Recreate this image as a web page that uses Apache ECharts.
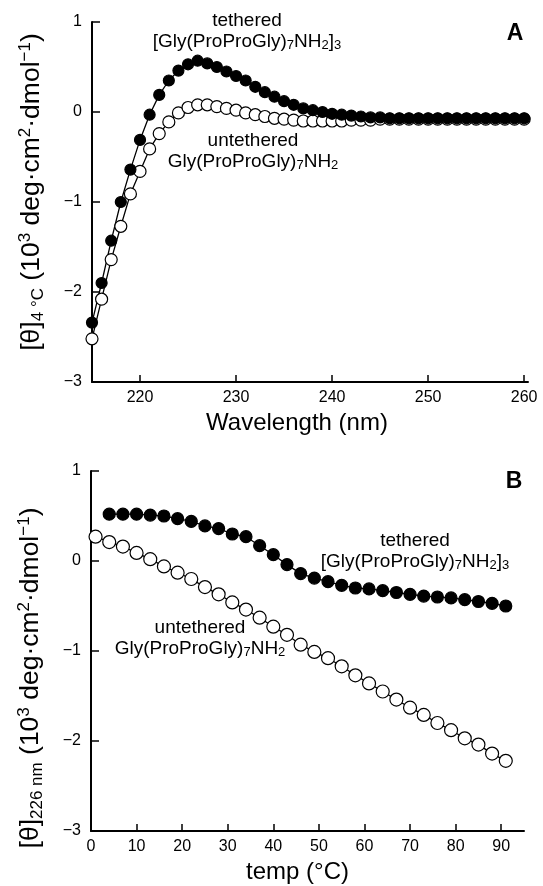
<!DOCTYPE html>
<html>
<head>
<meta charset="utf-8">
<script src="https://cdn.jsdelivr.net/npm/echarts@6/dist/echarts.min.js"></script>
<style>
html,body{margin:0;padding:0;background:#fff;}
#chart{width:543px;height:886px;}
</style>
</head>
<body>
<div id="chart"></div>
<script>
// ---- Panel A data: CD spectra at 4 °C ----
const wavelength = [215,216,217,218,219,220,221,222,223,224,225,226,227,228,229,230,231,232,233,234,235,236,237,238,239,240,241,242,243,244,245,246,247,248,249,250,251,252,253,254,255,256,257,258,259,260];
const tetheredA = [-2.34,-1.90,-1.43,-1.00,-0.64,-0.31,-0.03,0.19,0.35,0.46,0.53,0.57,0.54,0.50,0.45,0.40,0.35,0.28,0.22,0.17,0.12,0.08,0.04,0.02,0.00,-0.02,-0.03,-0.04,-0.05,-0.06,-0.06,-0.07,-0.07,-0.07,-0.07,-0.07,-0.07,-0.07,-0.07,-0.07,-0.07,-0.07,-0.07,-0.07,-0.07,-0.07];
const untetheredA = [-2.52,-2.08,-1.64,-1.27,-0.91,-0.66,-0.41,-0.24,-0.11,-0.01,0.05,0.08,0.08,0.06,0.04,0.02,-0.01,-0.03,-0.05,-0.07,-0.08,-0.09,-0.10,-0.10,-0.10,-0.10,-0.10,-0.09,-0.09,-0.09,-0.08,-0.08,-0.08,-0.08,-0.08,-0.08,-0.08,-0.08,-0.08,-0.08,-0.08,-0.08,-0.08,-0.08,-0.08,-0.08];
const xTicksA = [220,230,240,250,260];

// ---- Panel B data: thermal melts at 226 nm ----
const tempTethered = [4,7,10,13,16,19,22,25,28,31,34,37,40,43,46,49,52,55,58,61,64,67,70,73,76,79,82,85,88,91];
const tetheredB = [0.52,0.52,0.52,0.51,0.50,0.47,0.44,0.39,0.36,0.30,0.27,0.17,0.07,-0.04,-0.14,-0.19,-0.23,-0.27,-0.30,-0.31,-0.33,-0.35,-0.37,-0.39,-0.40,-0.41,-0.43,-0.45,-0.47,-0.50];
const tempUntethered = [1,4,7,10,13,16,19,22,25,28,31,34,37,40,43,46,49,52,55,58,61,64,67,70,73,76,79,82,85,88,91];
const untetheredB = [0.27,0.21,0.16,0.09,0.02,-0.06,-0.13,-0.20,-0.29,-0.37,-0.46,-0.54,-0.63,-0.73,-0.82,-0.93,-1.01,-1.08,-1.17,-1.27,-1.36,-1.45,-1.54,-1.63,-1.71,-1.80,-1.88,-1.97,-2.04,-2.14,-2.22];
const xTicksB = [0,10,20,30,40,50,60,70,80,90];

const FONT = '"Liberation Sans", Arial, Helvetica, sans-serif';
const zip = (xs, ys) => xs.map((x, i) => [x, ys[i]]);
const fmtY = v => v < 0 ? '\u2212' + Math.abs(v) : String(v);

const subSup = {
  sub: {fontSize: 17, fontFamily: FONT, color: '#000', verticalAlign: 'bottom', lineHeight: 12},
  sup: {fontSize: 17, fontFamily: FONT, color: '#000', verticalAlign: 'top', lineHeight: 14}
};

function xAxisCfg(gridIndex, min, max, ticks, name, gap, shift) {
  return {
    type: 'value', gridIndex, min, max,
    name, nameLocation: 'middle', nameGap: gap,
    nameTextStyle: {fontSize: 24, fontFamily: FONT, color: '#000', padding: [0, shift, 0, 0]},
    axisLine: {show: true, onZero: false, lineStyle: {color: '#000', width: 2}},
    axisTick: {show: true, inside: true, length: 7, lineStyle: {color: '#000', width: 1.5}, customValues: ticks},
    axisLabel: {fontSize: 16, fontFamily: FONT, color: '#000', margin: 8, customValues: ticks},
    splitLine: {show: false}
  };
}
function yAxisCfg(gridIndex, name, pad) {
  return {
    type: 'value', gridIndex, min: -3, max: 1, interval: 1,
    name, nameLocation: 'middle', nameGap: 45, nameRotate: 90,
    nameTextStyle: {fontSize: 26.5, fontFamily: FONT, color: '#000', lineHeight: 30, rich: subSup, padding: pad},
    axisLine: {show: true, onZero: false, lineStyle: {color: '#000', width: 2}},
    axisTick: {show: true, inside: true, length: 8, lineStyle: {color: '#000', width: 1.5}},
    axisLabel: {fontSize: 16, fontFamily: FONT, color: '#000', margin: 10, formatter: fmtY},
    splitLine: {show: false}
  };
}
function series(xi, yi, data, filled, size) {
  return {
    type: 'line', xAxisIndex: xi, yAxisIndex: yi, data,
    symbol: 'circle', symbolSize: size, showSymbol: true,
    lineStyle: {color: '#000', width: 1.3},
    itemStyle: {color: filled ? '#000' : '#fff', borderColor: '#000', borderWidth: 1.2},
    animation: false, silent: true
  };
}
function label(x, y, lines) {
  return {
    type: 'text', x, y,
    style: {text: lines, fill: '#000', fontSize: 19, fontFamily: FONT, align: 'center', verticalAlign: 'middle', lineHeight: 21,
      rich: {
        b: {fontSize: 19, fontFamily: FONT, lineHeight: 21, verticalAlign: 'middle'},
        sub: {fontSize: 13, fontFamily: FONT, lineHeight: 8, verticalAlign: 'bottom'}
      }}
  };
}

const chart = echarts.init(document.getElementById('chart'), null, {renderer: 'canvas'});
chart.setOption({
  backgroundColor: '#fff',
  animation: false,
  grid: [
    {left: 92, top: 22, width: 436, height: 360},
    {left: 91, top: 471, width: 433, height: 360}
  ],
  xAxis: [
    xAxisCfg(0, 215, 260.4, xTicksA, 'Wavelength (nm)', 29, 26),
    xAxisCfg(1, 0, 95, xTicksB, 'temp (°C)', 29, 20)
  ],
  yAxis: [
    yAxisCfg(0, '[θ]{sub|4 °C} (10{sup|3} deg·cm{sup|2}·dmol{sup|\u22121})', [0, 0, 0, 20]),
    yAxisCfg(1, '[θ]{sub|226 nm} (10{sup|3} deg·cm{sup|2}·dmol{sup|\u22121})', [0, 54, 0, 0])
  ],
  series: [
    series(0, 0, zip(wavelength, untetheredA), false, 12),
    series(0, 0, zip(wavelength, tetheredA), true, 11),
    series(1, 1, zip(tempUntethered, untetheredB), false, 13),
    series(1, 1, zip(tempTethered, tetheredB), true, 12)
  ],
  graphic: [
    label(247, 31, '{b|tethered}\n{b|[Gly(ProProGly)}{sub|7}{b|NH}{sub|2}{b|]}{sub|3}'),
    label(253, 151, '{b|untethered}\n{b|Gly(ProProGly)}{sub|7}{b|NH}{sub|2}'),
    label(415, 551, '{b|tethered}\n{b|[Gly(ProProGly)}{sub|7}{b|NH}{sub|2}{b|]}{sub|3}'),
    label(200, 638, '{b|untethered}\n{b|Gly(ProProGly)}{sub|7}{b|NH}{sub|2}'),
    {type: 'text', x: 515, y: 34, style: {text: 'A', fill: '#000', fontSize: 23, fontWeight: 'bold', fontFamily: FONT, align: 'center', verticalAlign: 'middle'}},
    {type: 'text', x: 514, y: 482, style: {text: 'B', fill: '#000', fontSize: 23, fontWeight: 'bold', fontFamily: FONT, align: 'center', verticalAlign: 'middle'}}
  ]
});
</script>
</body>
</html>
